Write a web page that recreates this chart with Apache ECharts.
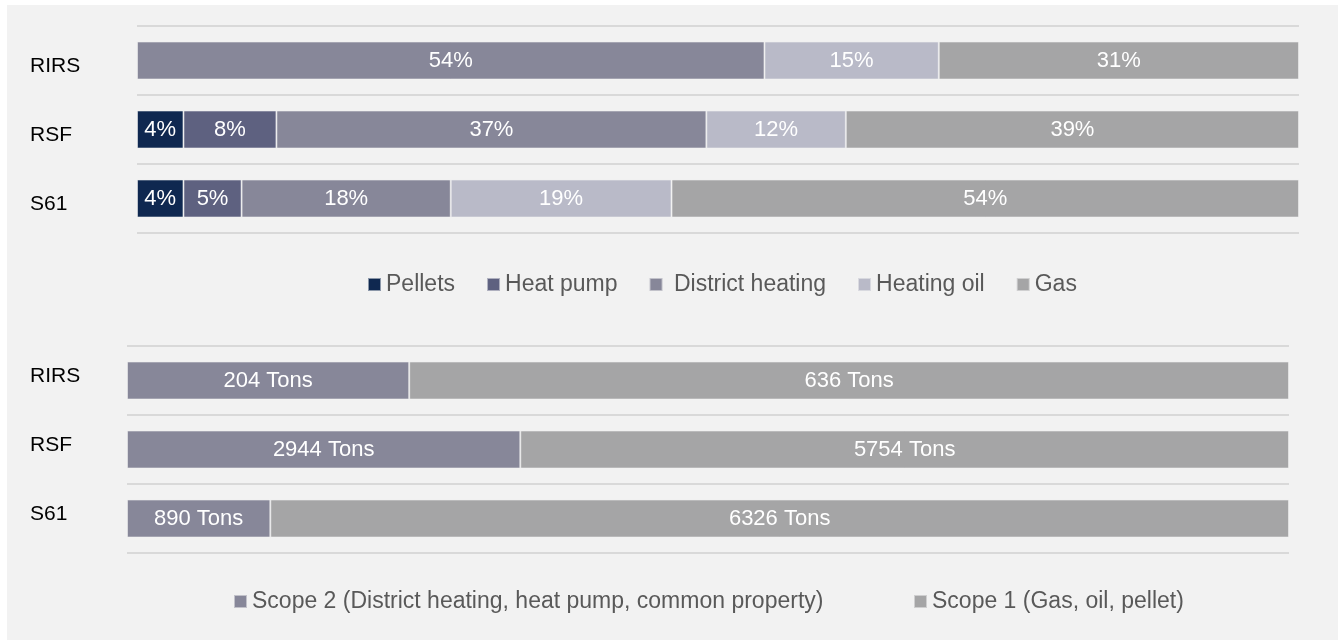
<!DOCTYPE html>
<html>
<head>
<meta charset="utf-8">
<title>Heating energy mix and CO2 emissions</title>
<script src="https://cdn.jsdelivr.net/npm/echarts@6/dist/echarts.min.js"></script>
<style>
  html, body { margin: 0; padding: 0; background: #ffffff; }
  #chart { width: 1343px; height: 640px; }
</style>
</head>
<body>
<div id="chart"></div>
<script>
// Sites, listed top to bottom
const sites = ['RIRS', 'RSF', 'S61'];

// Heating energy mix per site, in percent
const pellets     = [0, 4, 4];
const heatPump    = [0, 8, 5];
const district    = [54, 37, 18];
const heatingOil  = [15, 12, 19];
const gas         = [31, 39, 54];

// CO2 emissions per site, in tons
const scope2Tons = [204, 2944, 890];
const scope1Tons = [636, 5754, 6326];

const mixNames = ['Pellets', 'Heat pump', 'District heating', 'Heating oil', 'Gas'];
const mixData = [pellets, heatPump, district, heatingOil, gas];
const mixColors = ['#0f2850', '#5e6180', '#878799', '#b9bac8', '#a5a5a6'];

const scopeNames = ['Scope 2 (District heating, heat pump, common property)', 'Scope 1 (Gas, oil, pellet)'];
const scopeData = [scope2Tons, scope1Tons];
const scopeColors = ['#878799', '#a5a5a6'];

const FONT = '"Liberation Sans", Arial, sans-serif';

// share of each scope in the site's total, so both bars span the full width
function shareOf(arr, i) {
  const total = scope2Tons[i] + scope1Tons[i];
  return arr[i] / total * 100;
}

const barStyle = { borderColor: 'rgba(242,242,242,0.55)', borderWidth: 1 };

const series = [];
mixNames.forEach((name, k) => {
  series.push({
    name: name,
    type: 'bar',
    stack: 'mix',
    xAxisIndex: 0,
    yAxisIndex: 0,
    barWidth: 38,
    data: mixData[k],
    itemStyle: Object.assign({ color: mixColors[k] }, barStyle),
    label: {
      show: true,
      position: 'inside',
      color: '#ffffff',
      fontFamily: FONT,
      fontSize: 22,
      formatter: p => (p.value > 0 ? p.value + '%' : '')
    }
  });
});
scopeNames.forEach((name, k) => {
  series.push({
    name: name,
    type: 'bar',
    stack: 'scope',
    xAxisIndex: 1,
    yAxisIndex: 1,
    barWidth: 38,
    data: sites.map((s, i) => shareOf(scopeData[k], i)),
    itemStyle: Object.assign({ color: scopeColors[k] }, barStyle),
    label: {
      show: true,
      position: 'inside',
      color: '#ffffff',
      fontFamily: FONT,
      fontSize: 22,
      formatter: p => scopeData[k][p.dataIndex] + ' Tons'
    }
  });
});

// site names sit a little below (shift > 0) or above (shift < 0) the bar centre
function catAxis(gridIndex, margin, shift) {
  return {
    type: 'category',
    gridIndex: gridIndex,
    data: sites,
    inverse: true,
    axisLine: { show: false },
    axisTick: { show: false },
    splitLine: { show: true, lineStyle: { color: '#d9d9d9', width: 2 } },
    axisLabel: {
      align: 'left',
      margin: margin,
      color: '#000000',
      fontFamily: FONT,
      fontSize: 21,
      verticalAlign: shift > 0 ? 'top' : 'bottom',
      lineHeight: Math.abs(shift) * 2
    }
  };
}

const legendText = { color: '#595959', fontFamily: FONT, fontSize: 23 };

const option = {
  animation: false,
  backgroundColor: '#ffffff',
  graphic: [{
    type: 'rect',
    z: -100,
    silent: true,
    shape: { x: 7, y: 5, width: 1331, height: 635 },
    style: { fill: '#f2f2f2' }
  }],
  grid: [
    { left: 137, top: 26, width: 1162, height: 207 },
    { left: 127, top: 346, width: 1162, height: 207 }
  ],
  xAxis: [
    { type: 'value', gridIndex: 0, min: 0, max: 100, show: false },
    { type: 'value', gridIndex: 1, min: 0, max: 100, show: false }
  ],
  yAxis: [
    catAxis(0, 107, 6),
    catAxis(1, 97, -4.5)
  ],
  legend: [
    {
      data: mixNames,
      left: 367,
      top: 273,
      padding: 0,
      itemWidth: 13,
      itemHeight: 13,
      itemGap: 31,
      icon: 'rect',
      textStyle: legendText,
      formatter: n => (n === 'District heating' ? ' ' + n : n)
    },
    {
      data: [scopeNames[0]],
      left: 233,
      top: 590,
      padding: 0,
      itemWidth: 13,
      itemHeight: 13,
      icon: 'rect',
      textStyle: legendText
    },
    {
      data: [scopeNames[1]],
      left: 913,
      top: 590,
      padding: 0,
      itemWidth: 13,
      itemHeight: 13,
      icon: 'rect',
      textStyle: legendText
    }
  ],
  series: series
};

echarts.init(document.getElementById('chart'), null, { renderer: 'canvas' }).setOption(option);
</script>
</body>
</html>
